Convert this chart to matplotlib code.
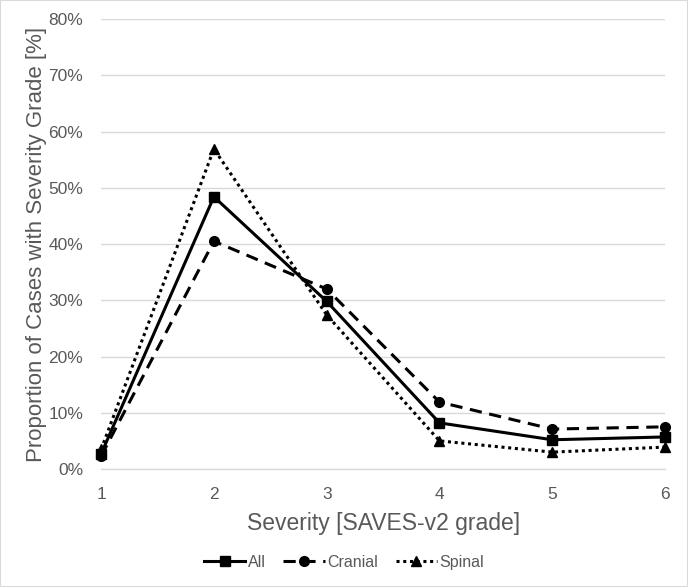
import matplotlib
matplotlib.use("Agg")
import matplotlib.pyplot as plt
from matplotlib.ticker import PercentFormatter

plt.rcParams['font.family'] = ['Liberation Sans', 'DejaVu Sans']

grades = [1, 2, 3, 4, 5, 6]
all_vals = [2.7, 48.4, 29.8, 8.2, 5.2, 5.7]
cranial_vals = [2.3, 40.5, 32.0, 11.9, 7.1, 7.5]
spinal_vals = [3.5, 56.9, 27.4, 5.0, 3.0, 3.9]
yticks = [0, 10, 20, 30, 40, 50, 60, 70, 80]

fig = plt.figure(figsize=(6.88, 5.87), dpi=100)
ax = fig.add_axes([0.147, 0.201, 0.8196, 0.7666])

ax.plot(grades, all_vals, color='black', linestyle='-', linewidth=2.2,
        marker='s', markersize=7, label='All')
ax.plot(grades, cranial_vals, color='black', linestyle=(0, (4, 2.5)), linewidth=2.2,
        marker='o', markersize=7, label='Cranial')
ax.plot(grades, spinal_vals, color='black', linestyle=(0, (1, 1.2)), linewidth=2.2,
        marker='^', markersize=7, label='Spinal')

ax.set_xlim(1, 6)
ax.set_ylim(0, 80)
ax.set_yticks(yticks)
ax.yaxis.set_major_formatter(PercentFormatter(decimals=0))
ax.set_xticks(grades)
ax.grid(axis='y', color='#d9d9d9', linewidth=1)
ax.set_axisbelow(True)
for s in ['top', 'right', 'left']:
    ax.spines[s].set_visible(False)
ax.spines['bottom'].set_color('#d9d9d9')
ax.spines['bottom'].set_linewidth(1)
ax.tick_params(axis='y', length=0, colors='#595959', labelsize=12.5, pad=13)
ax.tick_params(axis='x', length=0, colors='#595959', labelsize=12.5, pad=13)
ax.set_xlabel('Severity [SAVES-v2 grade]', fontsize=16.5, color='#595959', labelpad=7)
ax.set_ylabel('Proportion of Cases with Severity Grade [%]', fontsize=16, color='#595959', labelpad=1)

for line in ax.lines:
    line.set_clip_on(False)

leg = fig.legend(loc='center', bbox_to_anchor=(0.5, 0.042), ncol=3, frameon=False,
                 fontsize=11.5, handlelength=2.6, columnspacing=1.1, handletextpad=0.15)
for t in leg.get_texts():
    t.set_color('#595959')

fig.patches.append(plt.Rectangle((0, 0), 1, 1, transform=fig.transFigure,
                                 fill=False, edgecolor='#d9d9d9', linewidth=1.5))

fig.savefig('out.png', dpi=100)
